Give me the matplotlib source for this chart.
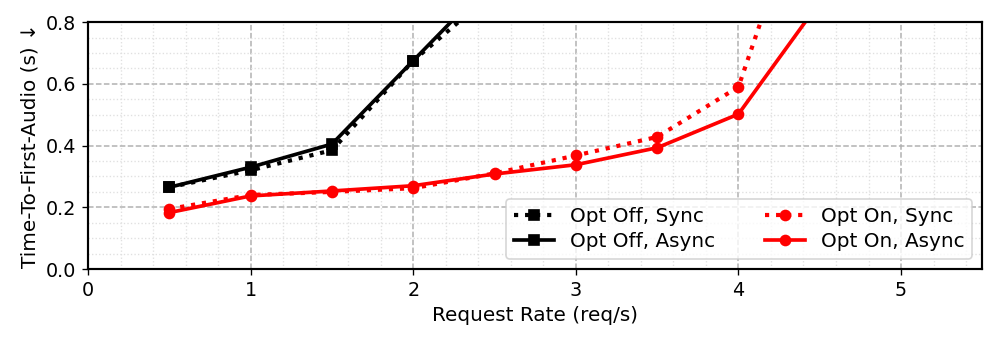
import numpy as np
import matplotlib.pyplot as plt

rates = [0.5, 1.0, 1.5, 2.0, 2.5]
off_sync = [0.265, 0.32, 0.385, 0.675, 0.90]
off_async = [0.265, 0.33, 0.405, 0.675, 0.945]

rates_on = [0.5, 1.0, 1.5, 2.0, 2.5, 3.0, 3.5, 4.0, 4.5]
on_sync = [0.195, 0.24, 0.25, 0.262, 0.31, 0.368, 0.428, 0.59, 1.36]
on_async = [0.183, 0.237, 0.253, 0.27, 0.308, 0.338, 0.393, 0.502, 0.865]

fig = plt.figure(figsize=(997 / 120, 345 / 120), dpi=120)
ax = fig.add_axes([0.0883, 0.22, 0.897, 0.716])

ax.plot(rates, off_sync, ':', color='black', marker='s', markersize=6, linewidth=2.5, label='Opt Off, Sync')
ax.plot(rates, off_async, '-', color='black', marker='s', markersize=6, linewidth=2.2, label='Opt Off, Async')
ax.plot(rates_on, on_sync, ':', color='red', marker='o', markersize=6, linewidth=2.5, label='Opt On, Sync')
ax.plot(rates_on, on_async, '-', color='red', marker='o', markersize=6, linewidth=2.2, label='Opt On, Async')

ax.set_xlim(0, 5.5)
ax.set_ylim(0, 0.8)
ax.set_xticks([0, 1, 2, 3, 4, 5])
ax.set_yticks([0, 0.2, 0.4, 0.6, 0.8])
ax.set_xticks(np.arange(0, 5.5, 0.2), minor=True)
ax.set_yticks(np.arange(0, 0.8, 0.05), minor=True)
ax.tick_params(which='minor', length=0)
ax.tick_params(labelsize=11.5)
ax.grid(True, which='major', linestyle='--', color='#b0b0b0', linewidth=0.9)
ax.grid(True, which='minor', linestyle=':', color='#e0e0e0', linewidth=0.8)
ax.set_axisbelow(True)
for s in ax.spines.values():
    s.set_linewidth(1.3)

ax.set_xlabel('Request Rate (req/s)', fontsize=12)
ax.set_ylabel('Time-To-First-Audio (s) ↓', fontsize=12)
ax.legend(loc='lower right', ncol=2, fontsize=12, handlelength=2, columnspacing=2.5, labelspacing=0.3, borderpad=0.4)

fig.savefig('out.png', dpi=120)
